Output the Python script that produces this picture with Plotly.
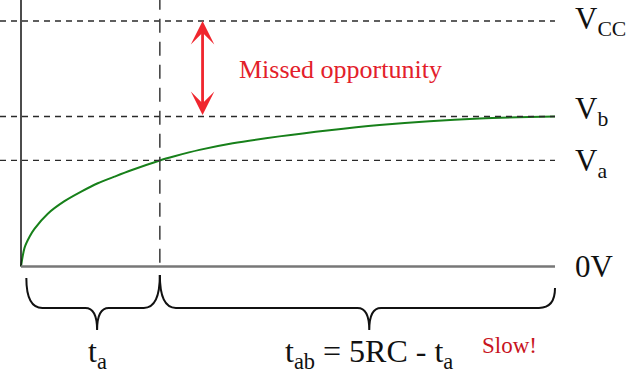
import plotly.graph_objects as go

# ---- data (time in RC units, voltage as fraction of Vcc) ----
t_vals = [0, 0.033, 0.080, 0.126, 0.251, 0.407, 0.564, 0.719, 0.875, 1.032, 1.30,
          1.437, 1.671, 1.983, 2.42, 2.889, 3.357, 3.825, 4.293, 4.761, 5.0]
v_vals = [0, 0.076, 0.121, 0.153, 0.215, 0.266, 0.305, 0.339, 0.366, 0.392, 0.432,
          0.449, 0.475, 0.502, 0.530, 0.555, 0.576, 0.592, 0.603, 0.609, 0.611]

level_names = ["V<sub>CC</sub>", "V<sub>b</sub>", "V<sub>a</sub>", "0V"]
level_values = [1.0, 0.611, 0.432, 0.0]
t_a = 1.30
t_end = 5.0
arrow_t = 1.70
brace_labels = ["t<sub>a</sub>", "t<sub>ab</sub> = 5RC - t<sub>a</sub>"]
note_text = "Missed opportunity"
slow_text = "Slow!"

FONT = "Liberation Serif"
XR = [-0.1966, 5.6742]
YR = [-0.4338, 1.0855]

fig = go.Figure()

# charging curve
fig.add_trace(go.Scatter(x=t_vals, y=v_vals, mode="lines",
                         line=dict(color="#17801a", width=2, shape="spline", smoothing=0.8),
                         hoverinfo="skip", showlegend=False))

shapes = []
# horizontal dashed reference levels (Vcc, Vb, Va)
for v in level_values[:3]:
    shapes.append(dict(type="line", xref="paper", yref="y", x0=0, x1=(t_end - XR[0]) / (XR[1] - XR[0]),
                       y0=v, y1=v, line=dict(color="#2a2a2a", width=1.3, dash="6px,5px")))
# vertical dashed at t_a
shapes.append(dict(type="line", xref="x", yref="paper", x0=t_a, x1=t_a, y0=(0 - YR[0]) / (YR[1] - YR[0]) + 0.01,
                   y1=1, line=dict(color="#3a3a3a", width=1.5, dash="14px,9px")))
# y axis line
shapes.append(dict(type="line", xref="x", yref="paper", x0=0, x1=0, y0=(0 - YR[0]) / (YR[1] - YR[0]), y1=1,
                   line=dict(color="#111111", width=1.5)))
# x axis line
shapes.append(dict(type="line", xref="x", yref="y", x0=0, x1=t_end, y0=0, y1=0,
                   line=dict(color="#777777", width=2.5)))


def brace(x0, x1, ytop0, ytop1, yh, ytip, r, r2, frac):
    xm = x0 + frac * (x1 - x0)
    return (f"M {x0},{ytop0} Q {x0},{yh} {x0 + r},{yh} L {xm - r2},{yh} "
            f"Q {xm},{yh} {xm},{ytip} Q {xm},{yh} {xm + r2},{yh} "
            f"L {x1 - r},{yh} Q {x1},{yh} {x1},{ytop1}"), xm


yh, ytip = -0.169, -0.2587
p1, m1 = brace(0.05, t_a, -0.047, -0.035, yh, ytip, 0.15, 0.11, 0.53)
p2, m2 = brace(t_a, t_end, -0.035, -0.088, yh, ytip, 0.15, 0.11, 0.53)
for p in (p1, p2):
    shapes.append(dict(type="path", xref="x", yref="y", path=p,
                       line=dict(color="#111111", width=2)))

annotations = []
# level labels
for name, v, ys in zip(level_names, level_values, [0, 5, -3, 0]):
    annotations.append(dict(x=5.17, y=v, xref="x", yref="y", text=name, showarrow=False,
                            xanchor="left", yanchor="middle", yshift=ys,
                            font=dict(family=FONT, size=31, color="#111111")))
# brace labels
for lab, xm in zip(brace_labels, (m1, m2)):
    annotations.append(dict(x=xm, y=-0.355, xref="x", yref="y", text=lab, showarrow=False,
                            xanchor="center", yanchor="middle",
                            font=dict(family=FONT, size=32, color="#111111")))
# double-headed red arrow
annotations.append(dict(x=arrow_t, y=level_values[0], ax=arrow_t, ay=level_values[1],
                        xref="x", yref="y", axref="x", ayref="y", text="", showarrow=True,
                        arrowhead=3, startarrowhead=3, arrowside="end+start",
                        arrowsize=1.4, startarrowsize=1.4, arrowwidth=2.8, arrowcolor="#f0262e",
                        standoff=0, startstandoff=0))
annotations.append(dict(x=2.99, y=0.804, xref="x", yref="y", text=note_text, showarrow=False,
                        xanchor="center", yanchor="middle",
                        font=dict(family=FONT, size=26, color="#e3202a")))
annotations.append(dict(x=4.57, y=-0.320, xref="x", yref="y", text=slow_text, showarrow=False,
                        xanchor="center", yanchor="middle",
                        font=dict(family=FONT, size=23, color="#c8141e")))

fig.update_layout(
    width=627, height=373,
    margin=dict(l=0, r=0, t=0, b=0),
    paper_bgcolor="white", plot_bgcolor="white",
    xaxis=dict(range=XR, visible=False, fixedrange=True),
    yaxis=dict(range=YR, visible=False, fixedrange=True),
    shapes=shapes, annotations=annotations, showlegend=False,
)

fig.write_html("out.html", config={"displayModeBar": False},
               post_script="document.body.style.margin='0px';document.body.style.overflow='hidden';")
